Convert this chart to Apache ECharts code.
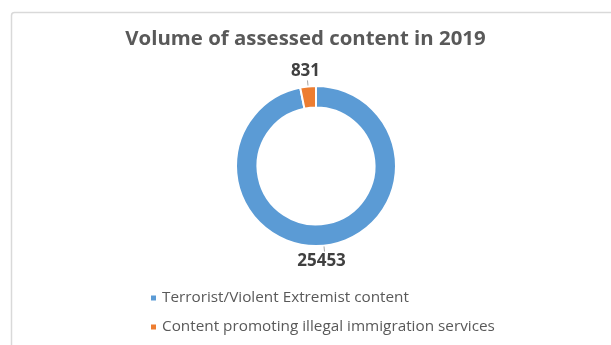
<!DOCTYPE html>
<html><head><meta charset="utf-8">
<script src="https://cdn.jsdelivr.net/npm/echarts@6/dist/echarts.min.js"></script>
<style>html,body{margin:0;padding:0;background:#fff}#c{width:611px;height:345px}</style>
</head><body><div id="c"></div>
<script>
const titleText = 'Volume of assessed content in 2019';
const categories = ['Terrorist/Violent Extremist content', 'Content promoting illegal immigration services'];
const values = [25453, 831];
const colors = ['#5B9BD5', '#ED7D31'];

const chart = echarts.init(document.getElementById('c'), null, {renderer: 'canvas'});
const FONT = 'Open Sans';
chart.setOption({
  animation: false,
  backgroundColor: '#fff',
  graphic: [{
    type: 'rect', left: 9, top: 10, silent: true,
    shape: {width: 700, height: 400, r: 3},
    style: {fill: 'none', stroke: '#d9d9d9', lineWidth: 1.5}
  }],
  title: {
    text: titleText, left: 'center', top: 24,
    textStyle: {fontFamily: FONT, fontWeight: 'bold', fontSize: 20.4, color: '#595959'}
  },
  legend: {
    orient: 'vertical', left: 144, top: 285,
    icon: 'rect', itemWidth: 7, itemHeight: 7, itemGap: 13,
    textStyle: {fontFamily: FONT, fontSize: 15.3, lineHeight: 16, color: '#595959', padding: [0, 0, 0, 0]},
    data: categories
  },
  series: [{
    type: 'pie',
    center: [316, 166],
    radius: [58.5, 80],
    startAngle: 90,
    clockwise: true,
    avoidLabelOverlap: false,
    itemStyle: {borderColor: '#fff', borderWidth: 2},
    label: {
      show: true, position: 'outside', formatter: '{c}',
      fontFamily: FONT, fontWeight: 'bold', fontSize: 17, color: '#404040', distanceToLabelLine: 2
    },
    labelLine: {show: true, length: 6, length2: 0, lineStyle: {color: '#a6a6a6', width: 1}},
    labelLayout: function (p) {
      const pts = p.labelLinePoints;
      const up = pts && pts[pts.length - 1][1] < pts[0][1];
      return up ? {align: 'center', verticalAlign: 'bottom', dy: -1}
                : {align: 'center', verticalAlign: 'top', dx: -5, dy: 1};
    },
    data: categories.map((n, i) => ({name: n, value: values[i], itemStyle: {color: colors[i]}}))
  }]
});
</script></body></html>
